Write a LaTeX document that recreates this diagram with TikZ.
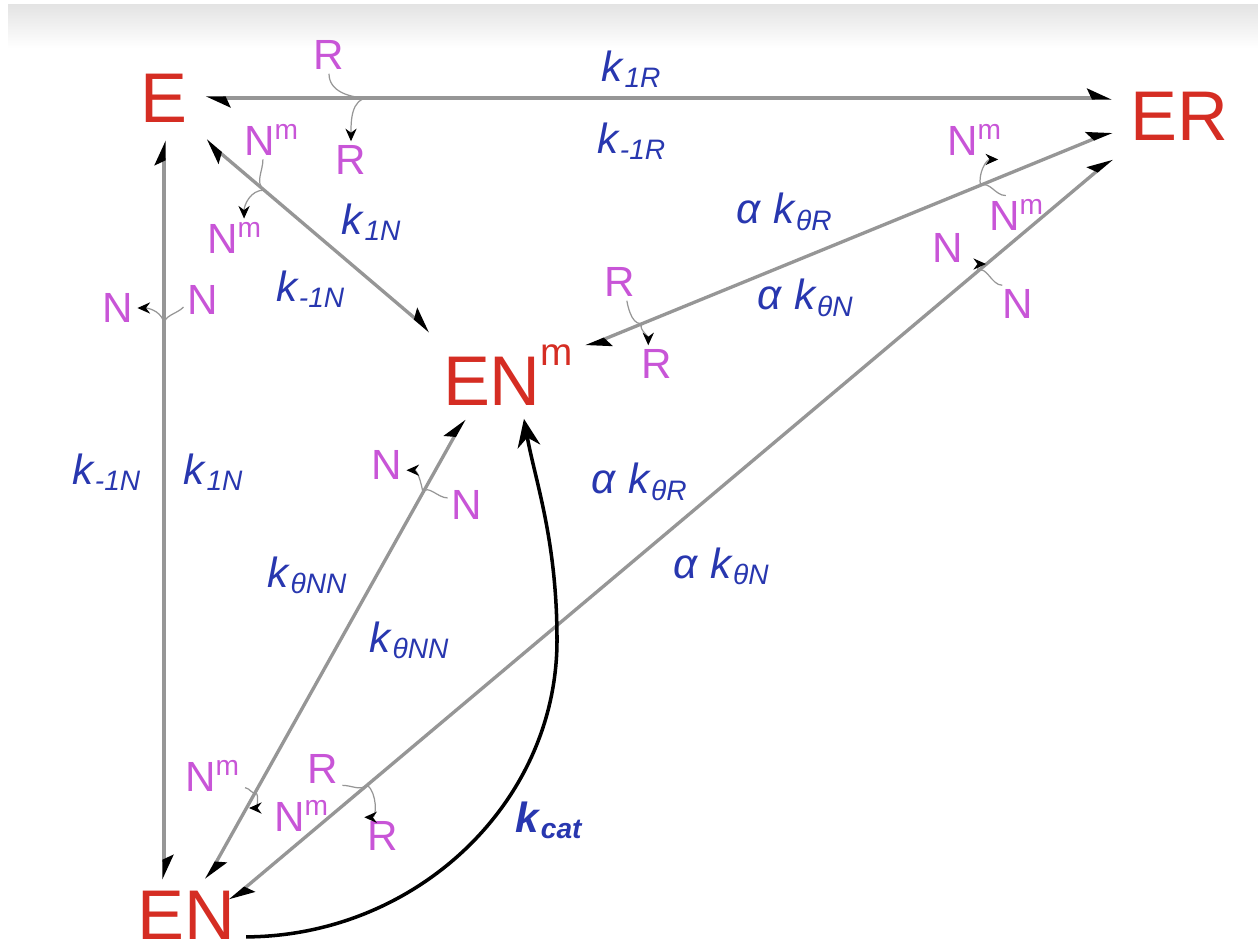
\documentclass[tikz,border=0pt]{standalone}
\usepackage{fontspec}
\setmainfont{Liberation Sans}
\usepackage{xcolor}
\usepackage{tikz}
\usetikzlibrary{arrows.meta}
\definecolor{spred}  {RGB}{213, 45, 35}
\definecolor{ligpink}{RGB}{200, 85,215}
\definecolor{kblue}  {RGB}{ 40, 55,175}
\definecolor{rxgray} {RGB}{150,150,150}
\newcommand{\krate}[1]{\textit{k}\textsubscript{\textit{#1}}}
\newcommand{\akrate}[1]{\textit{α} \krate{#1}}
\newcommand{\Nm}{N\textsuperscript{m}}
\tikzset{
  half/.tip={Stealth[left,length=6pt,width=5.4pt,inset=1.2pt,color=black]},
  bindtip/.tip={Stealth[length=3.6pt,width=3.2pt,color=black]},
  species/.style={text=spred,font=\fontsize{20}{24}\selectfont,inner sep=5pt},
  lig/.style={text=ligpink,font=\fontsize{12}{14}\selectfont,inner sep=1pt},
  rk/.style={text=kblue,font=\fontsize{12}{14}\selectfont,inner sep=1pt},
  rxn/.style={draw=rxgray,line width=0.95pt,arrows=half-half},
  bind/.style={draw=rxgray,line width=0.35pt},
  rel/.style={bind,arrows=-bindtip},
  cat/.style={draw=black,line width=1pt,arrows=-{Stealth[length=8pt,width=6.5pt]}},
}
\begin{document}
\begin{tikzpicture}[x=0.01cm,y=0.01cm]
  \useasboundingbox (0,0) rectangle (1258,-951);
  \shade[top color=black!11,bottom color=white] (8,-4) rectangle (1258,-48);
  % species
  \node[species] (E)   at (164,-98)  {E};
  \node[species] (ER)  at (1179,-116) {ER};
  \node[species,inner sep=3.5pt] (ENm) at (508,-375) {EN\raisebox{0.58em}{\fontsize{11}{11}\selectfont m}};
  \node[species,inner sep=3pt] (EN)  at (186,-915) {EN};
  % reactions
  \draw[rxn] (E.east) -- coordinate[pos=0.18] (jT) (E.east -| ER.west);
  \draw[rxn] (E.south) -- coordinate[pos=0.25] (jV) (E.south |- EN.north);
  \draw[rxn] (E.south east) -- coordinate[pos=0.26] (jEm) (ENm.north west);
  \draw[rxn] (ENm.20) -- coordinate[pos=0.11] (jA) coordinate[pos=0.75] (jB) (ER.193);
  \draw[rxn] (EN.60) -- coordinate[pos=0.19] (jC) coordinate[pos=0.84] (jD) (ENm.225);
  \draw[rxn,shorten <=-6pt] (EN.25) -- coordinate[pos=0.14] (jE) coordinate[pos=0.845] (jF) (ER.south west);
  \draw[cat] (EN.-20) .. controls (416,-936) and (557,-803) .. (557,-640)
                      .. controls (557,-540) and (535,-480) .. (ENm.-70);
  % rate constants
  \node[rk] (k1R)   at (632,-69)  {\krate{1R}};
  \node[rk] (km1R)  at (632,-141) {\krate{-1R}};
  \node[rk] (k1Na)  at (372,-222) {\krate{1N}};
  \node[rk] (km1Na) at (311,-289) {\krate{-1N}};
  \node[rk] (km1Nb) at (107,-472) {\krate{-1N}};
  \node[rk] (k1Nb)  at (214,-472) {\krate{1N}};
  \node[rk] (aRa)   at (785,-212) {\akrate{θR}};
  \node[rk] (aNa)   at (806,-298) {\akrate{θN}};
  \node[rk] (aRb)   at (640,-482) {\akrate{θR}};
  \node[rk] (aNb)   at (722,-566) {\akrate{θN}};
  \node[rk] (kNNa)  at (308,-575) {\krate{θNN}};
  \node[rk] (kNNb)  at (410,-640) {\krate{θNN}};
  \node[rk,font=\bfseries\fontsize{12}{14}\selectfont] (kcat) at (550,-820) {\krate{cat}};
  % ligands
  \node[lig] (rTa)  at (329,-55)   {R};
  \node[lig] (rTb)  at (351,-160)  {R};
  \node[lig] (nmEa) at (272,-140)  {\Nm};
  \node[lig] (nmEb) at (235,-238)  {\Nm};
  \node[lig] (nVl)  at (118,-308)  {N};
  \node[lig] (nVr)  at (203,-300)  {N};
  \node[lig] (rMa)  at (620,-282)  {R};
  \node[lig] (rMb)  at (657,-364)  {R};
  \node[lig] (nmRa) at (975,-140)  {\Nm};
  \node[lig] (nmRb) at (1017,-215) {\Nm};
  \node[lig] (nRa)  at (948,-248)  {N};
  \node[lig] (nRb)  at (1018,-304) {N};
  \node[lig] (rNa)  at (323,-769)  {R};
  \node[lig] (rNb)  at (383,-836)  {R};
  \node[lig] (nmNa) at (213,-776)  {\Nm};
  \node[lig] (nmNb) at (302,-816)  {\Nm};
  \node[lig] (nMa)  at (387,-465)  {N};
  \node[lig] (nMb)  at (467,-505)  {N};
  \coordinate (tNa) at (986,-264);
  \coordinate (tNm) at (249,-808);
  % binding / release
  \draw[bind] (rTa.south) to[out=-90,in=180] (jT);
  \draw[rel]  (jT) to[out=180,in=90] (rTb.north);
  \draw[bind] (nmEa.-115) to[out=-90,in=141] (jEm);
  \draw[rel]  (jEm) to[out=180,in=90] (nmEb.65);
  \draw[bind] (nVr.200) to[out=-135,in=90] (jV);
  \draw[rel]  (jV) to[out=90,in=0] (nVl.east);
  \draw[bind] (rMa.-70) to[out=-80,in=202] (jA);
  \draw[rel]  (jA) to[out=202,in=90] (rMb.115);
  \draw[bind] (nmRb.120) to[out=180,in=22] (jB);
  \draw[rel]  (jB) to[out=100,in=180] (nmRa.-40);
  \draw[bind] (nRb.130) to[out=180,in=40] (jF);
  \draw[rel]  (jF) to[out=110,in=180] (tNa);
  \draw[bind] (rNa.-40) to[out=0,in=220] (jE);
  \draw[rel]  (jE) to[out=-40,in=0] (rNb.135);
  \draw[bind] (nmNa.-20) to[out=0,in=241] (jC);
  \draw[rel]  (jC) to[out=-45,in=0] (tNm);
  \draw[bind] (nMb.160) to[out=180,in=61] (jD);
  \draw[rel]  (jD) to[out=100,in=0] (nMa.-15);
\end{tikzpicture}
\end{document}
